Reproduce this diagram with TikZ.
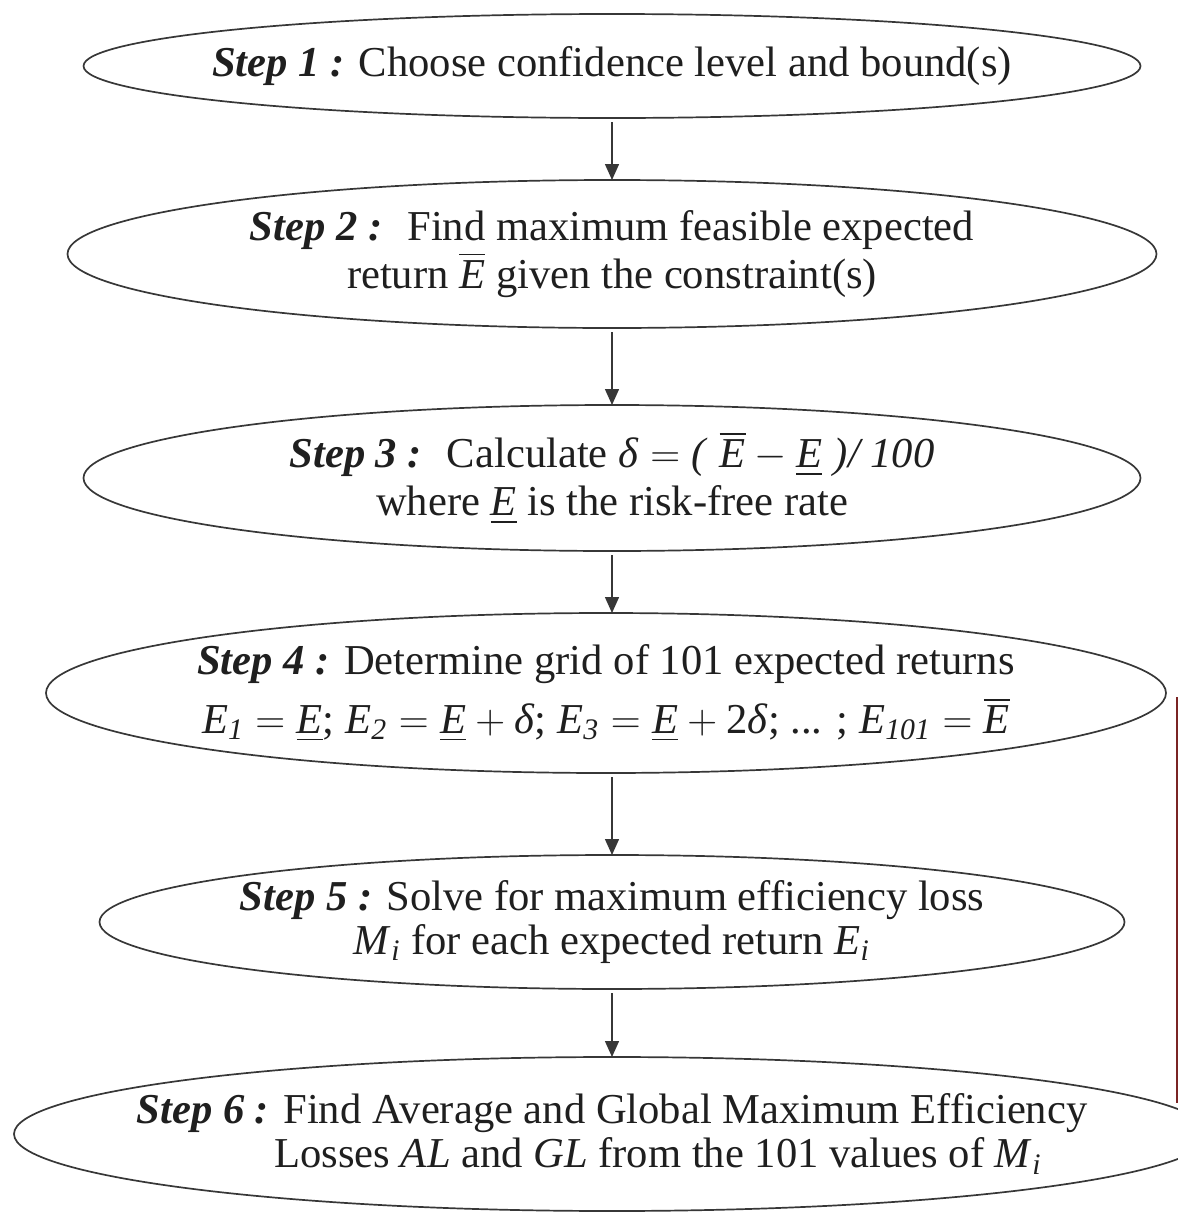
\documentclass[tikz,border=0pt]{standalone}
\usepackage{fontspec}
\setmainfont{Liberation Serif}
\usepackage{tikz}
\usetikzlibrary{positioning,arrows.meta,shapes.geometric}
\usepackage{amsmath}
\usepackage{xcolor}

\definecolor{edgegray}{RGB}{55,55,55}
\definecolor{sidered}{RGB}{122,36,36}

\newcommand{\stp}[1]{\textbf{\textit{Step #1 :}}}
\newcommand{\mi}[1]{\text{\textit{#1}}}

\begin{document}
\begin{tikzpicture}[
x=1pt, y=1pt,
stepbox/.style={draw=edgegray, line width=0.85pt, ellipse, outer sep=0pt, inner sep=0pt},
steptext/.style={align=center, font=\fontsize{21.3}{22}\selectfont, inner sep=0pt, text=black!88},
>={Triangle[length=8pt,width=7pt]}
]

\useasboundingbox (0,0) rectangle (589,-608);

%-------------------------
% Ellipses
%-------------------------

\node[stepbox, minimum width=528.5pt, minimum height=52pt] (s1) at (306,-33) {};
\node[stepbox, minimum width=544.5pt, minimum height=74pt, below=31pt of s1] (s2) {};
\node[stepbox, minimum width=528.5pt, minimum height=73pt, below=38.5pt of s2] (s3) {};
\node[stepbox, minimum width=560pt, minimum height=80pt, below=31pt of s3, xshift=-3pt] (s4) {};
\node[stepbox, minimum width=512.5pt, minimum height=67pt, below=41pt of s4, xshift=3pt] (s5) {};
\node[stepbox, minimum width=598pt, minimum height=77pt, below=34pt of s5] (s6) {};

%-------------------------
% Texts
%-------------------------

\node[steptext] (t1) at (s1) {\stp{1} Choose confidence level and bound(s)};

\node[steptext] (t2) at (s2)
{\stp{2}~ Find maximum feasible expected\\
return $\overline{\mi{E}}$ given the constraint(s)};

\node[steptext] (t3) at (s3)
{\stp{3}~ Calculate $\mi{δ} = \mi{(}\;\overline{\mi{E}} - \underline{\mi{E}}\;\mi{)/ 100}$\\[2pt]
where $\underline{\mi{E}}$ is the risk-free rate};

\node[steptext] (t4) at (s4)
{\stp{4} Determine grid of 101 expected returns\\[6pt]
$\mi{E}_{\mi{1}} = \underline{\mi{E}}$; $\mi{E}_{\mi{2}} = \underline{\mi{E}} + \mi{δ}$;
$\mi{E}_{\mi{3}} = \underline{\mi{E}} + \text{2}\mi{δ}$; ... ; $\mi{E}_{\mi{101}} = \overline{\mi{E}}$};

\node[steptext] (t5) at (s5)
{\stp{5} Solve for maximum efficiency loss\\
$\mi{M}_{\mi{i}}$ for each expected return $\mi{E}_{\mi{i}}$};

\node[steptext] (t6) at (s6)
{\stp{6} Find Average and Global Maximum Efficiency\\
\hspace*{46pt}Losses \textit{AL} and \textit{GL} from the 101 values of $\mi{M}_{\mi{i}}$};

%-------------------------
% Arrows
%-------------------------

\draw[->, edgegray, line width=0.75pt, shorten <=2pt] (s1.south) -- (s2.north);
\draw[->, edgegray, line width=0.75pt, shorten <=2pt] (s2.south) -- (s3.north);
\draw[->, edgegray, line width=0.75pt, shorten <=2pt] (s3.south) -- (s3.south |- s4.north);
\draw[->, edgegray, line width=0.75pt, shorten <=2pt] (s5.north |- s4.south) -- (s5.north);
\draw[->, edgegray, line width=0.75pt, shorten <=2pt] (s5.south) -- (s6.north);

% side line
\coordinate (rtop) at (588.3,-348.5);
\coordinate (rbot) at (588.3,-551.5);
\draw[sidered, line width=1pt] (rtop) -- (rbot);

\end{tikzpicture}
\end{document}
